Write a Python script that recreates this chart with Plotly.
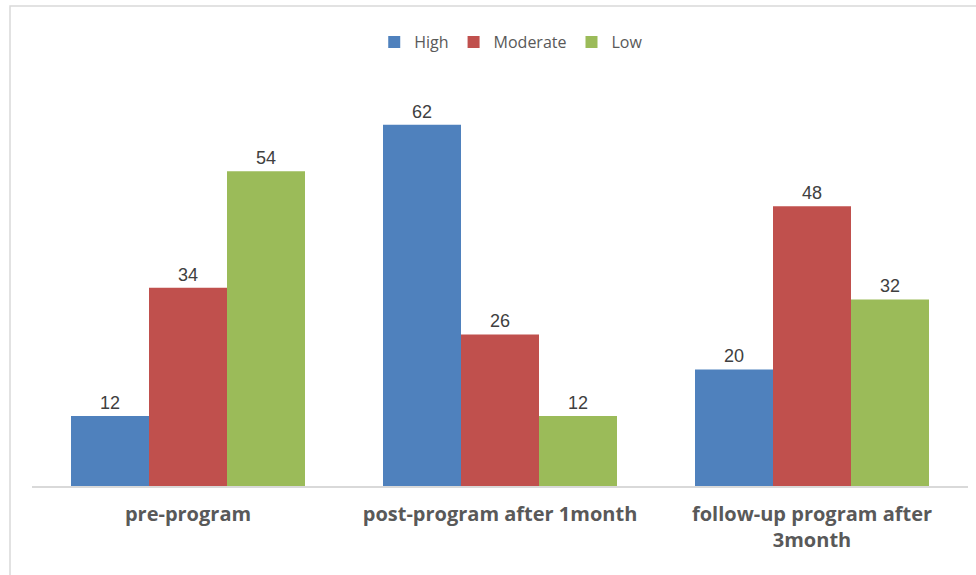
import plotly.graph_objects as go

categories = ["pre-program", "post-program after 1month", "follow-up program after<br>3month"]
high = [12, 62, 20]
moderate = [34, 26, 48]
low = [54, 12, 32]

series = [
    ("High", high, "#4F81BD"),
    ("Moderate", moderate, "#C0504D"),
    ("Low", low, "#9BBB59"),
]

fig = go.Figure()
for name, vals, color in series:
    fig.add_trace(go.Bar(
        name=name,
        x=categories,
        y=vals,
        marker=dict(color=color, line=dict(width=0)),
        text=vals,
        texttemplate="%{text}",
        textposition="outside",
        cliponaxis=False,
        textfont=dict(family="Liberation Sans, Arial", size=18, color="#404040"),
    ))

fig.update_layout(
    width=976,
    height=575,
    barmode="group",
    bargap=0.25,
    bargroupgap=0,
    plot_bgcolor="white",
    paper_bgcolor="white",
    margin=dict(l=32, r=8, t=78, b=89),
    legend=dict(
        orientation="h",
        x=0.512,
        xanchor="center",
        y=1.088,
        yanchor="middle",
        font=dict(family="Open Sans, Lato", size=16, color="#595959"),
        itemwidth=30,
        traceorder="normal",
    ),
    xaxis=dict(
        showline=True,
        linecolor="#d9d9d9",
        linewidth=1.5,
        ticks="",
        tickfont=dict(family="Open Sans, Lato", size=20, color="#595959", weight="bold"),
        ticklabelstandoff=9,
    ),
    yaxis=dict(
        range=[0, 70],
        visible=False,
        showgrid=False,
    ),
    shapes=[
        dict(
            type="rect", xref="paper", yref="paper",
            x0=-0.0235, x1=1.2, y0=-0.6, y1=1.1765,
            line=dict(color="#d9d9d9", width=1.5),
            fillcolor="rgba(0,0,0,0)",
            layer="below",
        )
    ],
)

fig.write_html("out.html")
